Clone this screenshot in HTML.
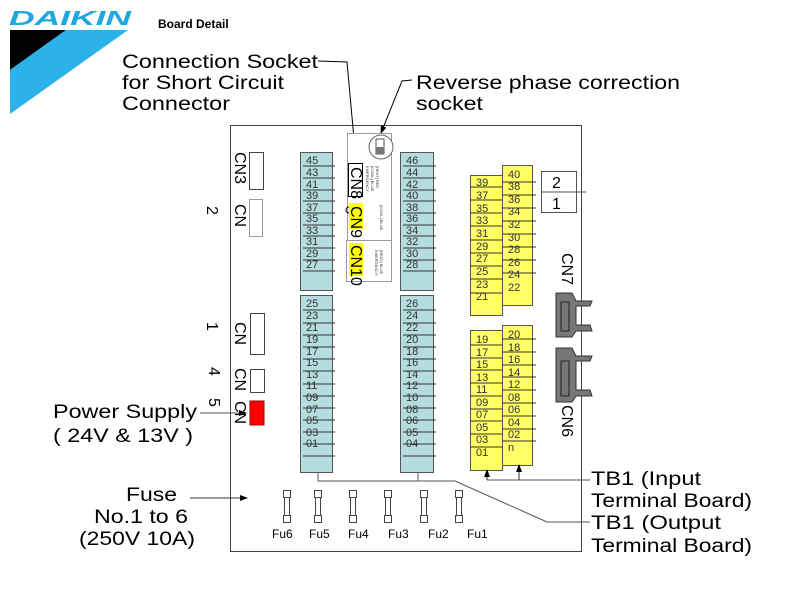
<!DOCTYPE html>
<html><head><meta charset="utf-8"><style>
html,body{margin:0;padding:0;background:#fff}
svg{display:block;font-family:"Liberation Sans",Arial,sans-serif}
.n{font-size:11px;fill:#333}
.L{font-size:19px;fill:#000}
.cn{font-size:16px;fill:#000}
.sm{font-size:4px;fill:#333}
</style></head><body>
<svg width="800" height="600" viewBox="0 0 800 600" xmlns="http://www.w3.org/2000/svg">
<defs>
<marker id="a" markerWidth="8" markerHeight="8" refX="7" refY="4" orient="auto" markerUnits="userSpaceOnUse"><path d="M0,1 L8,4 L0,7z" fill="#000"/></marker>
</defs>
<text x="9" y="25" font-size="20" font-weight="bold" font-style="italic" fill="#1ea7e1" textLength="122" lengthAdjust="spacingAndGlyphs">DAIKIN</text>
<polygon points="10,30 66,30 10,70" fill="#000"/>
<polygon points="66,30 128,30 10,114 10,70" fill="#2bb2ea"/>
<text x="158" y="28" font-size="12" font-weight="bold" fill="#000">Board Detail</text>
<text class="L" x="122" y="68" textLength="196" lengthAdjust="spacingAndGlyphs">Connection Socket</text>
<text class="L" x="122" y="89" textLength="162" lengthAdjust="spacingAndGlyphs">for Short Circuit</text>
<text class="L" x="122" y="110" textLength="108" lengthAdjust="spacingAndGlyphs">Connector</text>
<text class="L" x="416" y="89" textLength="264" lengthAdjust="spacingAndGlyphs">Reverse  phase correction</text>
<text class="L" x="416" y="110" textLength="67" lengthAdjust="spacingAndGlyphs">socket</text>
<rect x="230.5" y="125.5" width="351" height="426" fill="none" stroke="#444"/>
<polyline points="318,61 347,62 356,161" fill="none" stroke="#000" marker-end="url(#a)"/>
<polyline points="412,80 402,81 381,133" fill="none" stroke="#000" marker-end="url(#a)"/>
<rect x="347.5" y="133.5" width="44" height="113" fill="#fff" stroke="#999"/>
<circle cx="381" cy="147" r="12" fill="#fff" stroke="#666"/>
<rect x="376" y="139" width="8" height="15" fill="#fff" stroke="#555"/>
<rect x="376" y="147" width="8" height="7" fill="#777"/>
<rect x="348.5" y="163.5" width="14" height="33" fill="#fff" stroke="#000"/>
<text class="cn" font-size="11" transform="translate(351,167) rotate(90)">CN8</text>
<rect x="349" y="203" width="14" height="26" fill="#ff0"/>
<text class="cn" font-size="11" transform="translate(351,206) rotate(90)">CN9</text>
<path d="M349,207 a3,3 0 1 0 0,6" fill="none" stroke="#000"/>
<text class="sm" transform="translate(366,166) rotate(90)">EMERGENCY</text>
<text class="sm" transform="translate(371,166) rotate(90)">[COOL] BLUE</text>
<text class="sm" transform="translate(376,166) rotate(90)">[HEAT] RED</text>
<text class="sm" transform="translate(380,205) rotate(90)">[COOL] BLUE</text>
<rect x="346.5" y="240.5" width="45" height="41" fill="#fff" stroke="#999"/>
<rect x="349" y="243" width="14" height="33" fill="#ff0"/>
<text class="cn" font-size="11" transform="translate(351,245) rotate(90)">CN10</text>
<text class="sm" transform="translate(375,250) rotate(90)">EMERGENCY</text>
<text class="sm" transform="translate(380,250) rotate(90)">[HEAT] BLUE</text>
<g fill="#b5dcdf" stroke="#555">
<rect x="300.5" y="152.5" width="32" height="138"/>
<rect x="400.5" y="152.5" width="33" height="138"/>
<rect x="300.5" y="295.5" width="32" height="177"/>
<rect x="400.5" y="295.5" width="33" height="177"/>
</g>
<g stroke="#333" stroke-width="1">
<path d="M303,166h32M303,178h32M303,190h32M303,201h32M303,213h32M303,225h32M303,236h32M303,248h32M303,260h32M303,271h32"/>
<path d="M403,166h33M403,178h33M403,190h33M403,201h33M403,213h33M403,225h33M403,236h33M403,248h33M403,260h33M403,271h33"/>
<path d="M303,310h32M303,323h32M303,335h32M303,347h32M303,359h32M303,371h32M303,384h32M303,396h32M303,408h32M303,420h32M303,432h32M303,444h32M303,456h32"/>
<path d="M403,310h33M403,323h33M403,335h33M403,347h33M403,359h33M403,371h33M403,384h33M403,396h33M403,408h33M403,420h33M403,432h33M403,444h33M403,456h33"/>
</g>
<g class="n">
<text x="306" y="164">45</text><text x="306" y="176">43</text><text x="306" y="188">41</text><text x="306" y="199">39</text><text x="306" y="211">37</text><text x="306" y="222">35</text><text x="306" y="234">33</text><text x="306" y="245">31</text><text x="306" y="257">29</text><text x="306" y="268">27</text>
<text x="406" y="164">46</text><text x="406" y="176">44</text><text x="406" y="188">42</text><text x="406" y="199">40</text><text x="406" y="211">38</text><text x="406" y="222">36</text><text x="406" y="234">34</text><text x="406" y="245">32</text><text x="406" y="257">30</text><text x="406" y="268">28</text>
<text x="306" y="307">25</text><text x="306" y="319">23</text><text x="306" y="331">21</text><text x="306" y="343">19</text><text x="306" y="355">17</text><text x="306" y="366">15</text><text x="306" y="378">13</text><text x="306" y="389">11</text><text x="306" y="401">09</text><text x="306" y="413">07</text><text x="306" y="424">05</text><text x="306" y="436">03</text><text x="306" y="447">01</text>
<text x="406" y="307">26</text><text x="406" y="319">24</text><text x="406" y="331">22</text><text x="406" y="343">20</text><text x="406" y="355">18</text><text x="406" y="366">16</text><text x="406" y="378">14</text><text x="406" y="389">12</text><text x="406" y="401">10</text><text x="406" y="413">08</text><text x="406" y="424">06</text><text x="406" y="436">05</text><text x="406" y="447">04</text>
</g>
<g fill="#ffff66" stroke="#555">
<rect x="470.5" y="175.5" width="32" height="140"/>
<rect x="502.5" y="165.5" width="30" height="140"/>
<rect x="470.5" y="330.5" width="32" height="140"/>
<rect x="502.5" y="325.5" width="30" height="140"/>
</g>
<g stroke="#333">
<path d="M470,187h32M470,200h32M470,213h32M470,226h32M470,240h32M470,253h32M470,266h32M470,279h32M470,293h32"/>
<path d="M502,182h34M502,195h34M502,208h34M502,221h34M502,234h34M502,247h34M502,260h34M502,273h34"/>
<path d="M470,345h32M470,358h32M470,370h32M470,383h32M470,396h32M470,409h32M470,421h32M470,434h32M470,447h32"/>
<path d="M502,339h34M502,352h34M502,365h34M502,377h34M502,390h34M502,403h34M502,416h34M502,429h34M502,441h34"/>
</g>
<g class="n">
<text x="476" y="186">39</text><text x="476" y="199">37</text><text x="476" y="212">35</text><text x="476" y="224">33</text><text x="476" y="237">31</text><text x="476" y="250">29</text><text x="476" y="262">27</text><text x="476" y="275">25</text><text x="476" y="288">23</text><text x="476" y="300">21</text>
<text x="508" y="178">40</text><text x="508" y="190">38</text><text x="508" y="203">36</text><text x="508" y="215">34</text><text x="508" y="228">32</text><text x="508" y="241">30</text><text x="508" y="253">28</text><text x="508" y="266">26</text><text x="508" y="278">24</text><text x="508" y="291">22</text>
<text x="476" y="343">19</text><text x="476" y="356">17</text><text x="476" y="368">15</text><text x="476" y="381">13</text><text x="476" y="393">11</text><text x="476" y="406">09</text><text x="476" y="418">07</text><text x="476" y="431">05</text><text x="476" y="443">03</text><text x="476" y="456">01</text>
<text x="508" y="338">20</text><text x="508" y="351">18</text><text x="508" y="363">16</text><text x="508" y="376">14</text><text x="508" y="388">12</text><text x="508" y="401">08</text><text x="508" y="413">06</text><text x="508" y="426">04</text><text x="508" y="438">02</text><text x="508" y="451">n</text>
</g>
<rect x="541.5" y="171.5" width="35" height="41" fill="#fff" stroke="#555"/>
<line x1="541" y1="192" x2="586" y2="192" stroke="#555"/>
<text x="552" y="188" font-size="16">2</text>
<text x="552" y="209" font-size="16">1</text>
<text class="cn" font-size="18" transform="translate(562,253) rotate(90)">CN7</text>
<text class="cn" font-size="18" transform="translate(562,405) rotate(90)">CN6</text>
<g fill="#777" stroke="#333">
<path d="M556,293 H572 L576,301 H592 L590,306 H576 V325 H590 L592,331 H576 L572,337 H556 Z"/>
<path d="M556,348 H572 L576,356 H592 L590,361 H576 V390 H590 L592,396 H576 L572,402 H556 Z"/>
</g>
<rect x="561" y="302" width="8" height="29" fill="#777" stroke="#222"/>
<rect x="561" y="361" width="8" height="35" fill="#777" stroke="#222"/>
<g fill="#fff" stroke="#444">
<rect x="249.5" y="152.5" width="14" height="37"/>
<rect x="249.5" y="199.5" width="13" height="37" stroke="#999"/>
<rect x="250.5" y="313.5" width="14" height="41"/>
<rect x="250.5" y="369.5" width="14" height="23"/>
</g>
<rect x="250" y="401" width="14" height="24" fill="#f00" stroke="#a00"/>
<g class="cn">
<text transform="translate(235,152) rotate(90)">CN3</text>
<text transform="translate(235,204) rotate(90)">CN</text>
<text transform="translate(235,322) rotate(90)">CN</text>
<text transform="translate(235,368) rotate(90)">CN</text>
<text transform="translate(235,401) rotate(90)">CN</text>
<text transform="translate(207,206) rotate(90)">2</text>
<text transform="translate(207,322) rotate(90)">1</text>
<text transform="translate(209,367) rotate(90)">4</text>
<text transform="translate(209,398) rotate(90)">5</text>
</g>
<text class="L" x="53" y="418" textLength="144" lengthAdjust="spacingAndGlyphs">Power Supply</text>
<text class="L" x="53" y="442" textLength="140" lengthAdjust="spacingAndGlyphs">( 24V &amp; 13V )</text>
<line x1="200" y1="413" x2="246" y2="413" stroke="#555" marker-end="url(#a)"/>
<text class="L" x="126" y="501" textLength="51" lengthAdjust="spacingAndGlyphs">Fuse</text>
<text class="L" x="94" y="523" textLength="94" lengthAdjust="spacingAndGlyphs">No.1 to 6</text>
<text class="L" x="79" y="545" textLength="116" lengthAdjust="spacingAndGlyphs">(250V 10A)</text>
<line x1="190" y1="498" x2="247" y2="498" stroke="#333" marker-end="url(#a)"/>
<g fill="#fff" stroke="#444">
<g transform="translate(283,0)"><rect x="0.5" y="490.5" width="7" height="7"/><rect x="1.5" y="497.5" width="5" height="18"/><rect x="0.5" y="515.5" width="7" height="7"/></g>
<g transform="translate(314,0)"><rect x="0.5" y="490.5" width="7" height="7"/><rect x="1.5" y="497.5" width="5" height="18"/><rect x="0.5" y="515.5" width="7" height="7"/></g>
<g transform="translate(349,0)"><rect x="0.5" y="490.5" width="7" height="7"/><rect x="1.5" y="497.5" width="5" height="18"/><rect x="0.5" y="515.5" width="7" height="7"/></g>
<g transform="translate(384,0)"><rect x="0.5" y="490.5" width="7" height="7"/><rect x="1.5" y="497.5" width="5" height="18"/><rect x="0.5" y="515.5" width="7" height="7"/></g>
<g transform="translate(420,0)"><rect x="0.5" y="490.5" width="7" height="7"/><rect x="1.5" y="497.5" width="5" height="18"/><rect x="0.5" y="515.5" width="7" height="7"/></g>
<g transform="translate(455,0)"><rect x="0.5" y="490.5" width="7" height="7"/><rect x="1.5" y="497.5" width="5" height="18"/><rect x="0.5" y="515.5" width="7" height="7"/></g>
</g>
<g font-size="12" fill="#000">
<text x="272" y="538">Fu6</text><text x="309" y="538">Fu5</text><text x="348" y="538">Fu4</text><text x="388" y="538">Fu3</text><text x="428" y="538">Fu2</text><text x="467" y="538">Fu1</text>
</g>
<polyline points="318,472 318,481 455,481 547,522 590,522" fill="none" stroke="#555"/>
<line x1="418" y1="472" x2="418" y2="481" stroke="#555"/>
<polyline points="487,480 590,480" fill="none" stroke="#555"/>
<line x1="487" y1="480" x2="487" y2="470" stroke="#333" marker-end="url(#a)"/>
<line x1="519" y1="480" x2="519" y2="465" stroke="#333" marker-end="url(#a)"/>
<text class="L" x="591" y="485" textLength="110" lengthAdjust="spacingAndGlyphs">TB1 (Input</text>
<text class="L" x="591" y="507" textLength="161" lengthAdjust="spacingAndGlyphs">Terminal Board)</text>
<text class="L" x="591" y="529" textLength="130" lengthAdjust="spacingAndGlyphs">TB1 (Output</text>
<text class="L" x="591" y="552" textLength="161" lengthAdjust="spacingAndGlyphs">Terminal Board)</text>
</svg>
</body></html>
